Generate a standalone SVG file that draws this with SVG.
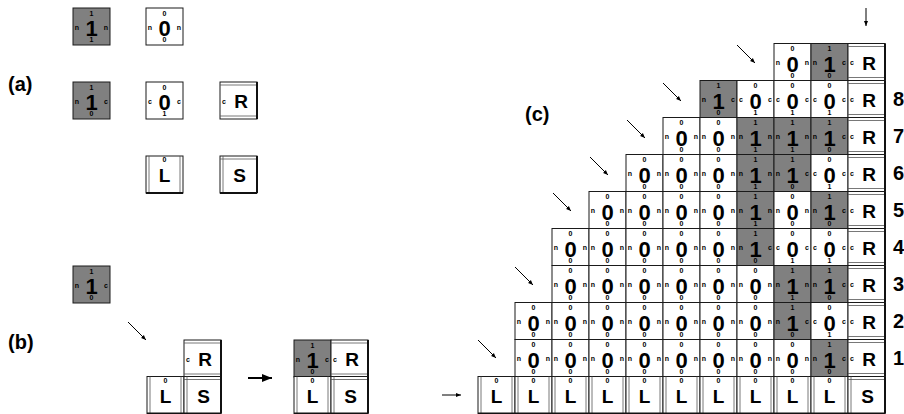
<svg xmlns="http://www.w3.org/2000/svg" xmlns:xlink="http://www.w3.org/1999/xlink" width="904" height="414" viewBox="0 0 904 414">
<style>
.fr{fill:#fff;stroke:#1a1a1a;stroke-width:1}
.gy{fill:#808080;stroke:#1a1a1a;stroke-width:1}
.in{stroke:#555;stroke-width:0.8;fill:none}
.tk{stroke:#111;stroke-width:2;fill:none}
text{font-family:"Liberation Sans",Arial,sans-serif;font-weight:bold;fill:#000;text-anchor:middle}
.b{font-size:22px}
.s{font-size:7px}
.k{font-size:19px}
.lb{font-size:20px;text-anchor:start}
.ar{stroke:#000;stroke-width:1;fill:none;marker-end:url(#ah)}
.ar2{stroke:#000;stroke-width:2;fill:none;marker-end:url(#ah)}
</style>
<defs>
<marker id="ah" viewBox="0 0 10 10" refX="10" refY="5" markerWidth="5.5" markerHeight="5" orient="auto"><path d="M0,1L10,5L0,9z" fill="#000"/></marker>
<g id="fW"><rect class="fr" width="37" height="37"/></g>
<g id="fG"><rect class="gy" width="37" height="37"/></g>
<g id="fR"><rect class="fr" width="37" height="37"/><path class="in" d="M0,3H37M0,34H37"/><path class="tk" d="M37,0V37"/></g>
<g id="fL"><rect class="fr" width="37" height="37"/><path class="in" d="M3,0V37M34,0V37"/><path class="tk" d="M0,37H37"/></g>
<g id="fS"><rect class="fr" width="37" height="37"/><path class="in" d="M3,0V37M0,3H37"/><path class="tk" d="M37,0V37M0,37H37"/></g>
</defs>

<text class="lb" x="8" y="91">(a)</text>
<text class="lb" x="8" y="349">(b)</text>
<text class="lb" x="525" y="121">(c)</text>

<!-- (a) -->
<g id="a1" transform="translate(73,8)"><use href="#fG"/><text class="b" x="18.5" y="28">1</text><text class="s"><tspan x="18.5" y="7.5">1</tspan><tspan x="18.5" y="34">1</tspan><tspan x="4" y="21.5">n</tspan><tspan x="33" y="21.5">n</tspan></text></g>
<g id="a2" transform="translate(146,8)"><use href="#fW"/><text class="b" x="18.5" y="28">0</text><text class="s"><tspan x="18.5" y="7.5">0</tspan><tspan x="18.5" y="34">0</tspan><tspan x="4" y="21.5">n</tspan><tspan x="33" y="21.5">n</tspan></text></g>
<g id="a3" transform="translate(73,82)"><use href="#fG"/><text class="b" x="18.5" y="28">1</text><text class="s"><tspan x="18.5" y="7.5">1</tspan><tspan x="18.5" y="34">0</tspan><tspan x="4" y="21.5">n</tspan><tspan x="33" y="21.5">c</tspan></text></g>
<g id="a4" transform="translate(146,82)"><use href="#fW"/><text class="b" x="18.5" y="28">0</text><text class="s"><tspan x="18.5" y="7.5">0</tspan><tspan x="18.5" y="34">1</tspan><tspan x="4" y="21.5">c</tspan><tspan x="33" y="21.5">c</tspan></text></g>
<g id="a5" transform="translate(220,82)"><use href="#fR"/><text class="s" x="4" y="21.5">c</text><text class="k" x="21" y="26">R</text></g>
<g id="a6" transform="translate(146,156)"><use href="#fL"/><text class="s" x="18.5" y="6">0</text><text class="k" x="18.5" y="26">L</text></g>
<g id="a7" transform="translate(220,156)"><use href="#fS"/><text class="k" x="19.5" y="26">S</text></g>

<!-- (b) -->
<g id="b1" transform="translate(73,266)"><use href="#fG"/><text class="b" x="18.5" y="28">1</text><text class="s"><tspan x="18.5" y="7.5">1</tspan><tspan x="18.5" y="34">0</tspan><tspan x="4" y="21.5">n</tspan><tspan x="33" y="21.5">c</tspan></text></g>
<g id="b2" transform="translate(184,340)"><use href="#fR"/><text class="s" x="4" y="21.5">c</text><text class="k" x="21" y="26">R</text></g>
<g id="b3" transform="translate(147,376.5)"><use href="#fL"/><text class="s" x="18.5" y="6">0</text><text class="k" x="18.5" y="26">L</text></g>
<g id="b4" transform="translate(184,376.5)"><use href="#fS"/><text class="k" x="19.5" y="26">S</text></g>
<g id="b5" transform="translate(294,340)"><use href="#fG"/><text class="b" x="18.5" y="28">1</text><text class="s"><tspan x="18.5" y="7.5">1</tspan><tspan x="18.5" y="34">0</tspan><tspan x="4" y="21.5">n</tspan><tspan x="33" y="21.5">c</tspan></text></g>
<g id="b6" transform="translate(331,340)"><use href="#fR"/><text class="s" x="4" y="21.5">c</text><text class="k" x="21" y="26">R</text></g>
<g id="b7" transform="translate(294,376.5)"><use href="#fL"/><text class="s" x="18.5" y="6">0</text><text class="k" x="18.5" y="26">L</text></g>
<g id="b8" transform="translate(331,376.5)"><use href="#fS"/><text class="k" x="19.5" y="26">S</text></g>

<!-- (c) row 9 -->
<g id="c9-8" transform="translate(774,43.5)"><use href="#fW"/><text class="b" x="18.5" y="28">0</text><text class="s"><tspan x="18.5" y="7.5">0</tspan><tspan x="18.5" y="34">0</tspan><tspan x="4" y="21.5">n</tspan><tspan x="33" y="21.5">n</tspan></text></g>
<g id="c9-9" transform="translate(811,43.5)"><use href="#fG"/><text class="b" x="18.5" y="28">1</text><text class="s"><tspan x="18.5" y="7.5">1</tspan><tspan x="18.5" y="34">0</tspan><tspan x="4" y="21.5">n</tspan><tspan x="33" y="21.5">c</tspan></text></g>
<g id="c9-R" transform="translate(848,43.5)"><use href="#fR"/><text class="s" x="4" y="21.5">c</text><text class="k" x="21" y="26">R</text></g>

<!-- row 8 -->
<g id="c8-6" transform="translate(700,80.5)"><use href="#fG"/><text class="b" x="18.5" y="28">1</text><text class="s"><tspan x="18.5" y="7.5">1</tspan><tspan x="18.5" y="34">0</tspan><tspan x="4" y="21.5">n</tspan><tspan x="33" y="21.5">c</tspan></text></g>
<g id="c8-7" transform="translate(737,80.5)"><use href="#fW"/><text class="b" x="18.5" y="28">0</text><text class="s"><tspan x="18.5" y="7.5">0</tspan><tspan x="18.5" y="34">1</tspan><tspan x="4" y="21.5">c</tspan><tspan x="33" y="21.5">c</tspan></text></g>
<g id="c8-8" transform="translate(774,80.5)"><use href="#fW"/><text class="b" x="18.5" y="28">0</text><text class="s"><tspan x="18.5" y="7.5">0</tspan><tspan x="18.5" y="34">1</tspan><tspan x="4" y="21.5">c</tspan><tspan x="33" y="21.5">c</tspan></text></g>
<g id="c8-9" transform="translate(811,80.5)"><use href="#fW"/><text class="b" x="18.5" y="28">0</text><text class="s"><tspan x="18.5" y="7.5">0</tspan><tspan x="18.5" y="34">1</tspan><tspan x="4" y="21.5">c</tspan><tspan x="33" y="21.5">c</tspan></text></g>
<g id="c8-R" transform="translate(848,80.5)"><use href="#fR"/><text class="s" x="4" y="21.5">c</text><text class="k" x="21" y="26">R</text></g>

<!-- row 7 -->
<g id="c7-5" transform="translate(663,117.5)"><use href="#fW"/><text class="b" x="18.5" y="28">0</text><text class="s"><tspan x="18.5" y="7.5">0</tspan><tspan x="18.5" y="34">0</tspan><tspan x="4" y="21.5">n</tspan><tspan x="33" y="21.5">n</tspan></text></g>
<g id="c7-6" transform="translate(700,117.5)"><use href="#fW"/><text class="b" x="18.5" y="28">0</text><text class="s"><tspan x="18.5" y="7.5">0</tspan><tspan x="18.5" y="34">0</tspan><tspan x="4" y="21.5">n</tspan><tspan x="33" y="21.5">n</tspan></text></g>
<g id="c7-7" transform="translate(737,117.5)"><use href="#fG"/><text class="b" x="18.5" y="28">1</text><text class="s"><tspan x="18.5" y="7.5">1</tspan><tspan x="18.5" y="34">1</tspan><tspan x="4" y="21.5">n</tspan><tspan x="33" y="21.5">n</tspan></text></g>
<g id="c7-8" transform="translate(774,117.5)"><use href="#fG"/><text class="b" x="18.5" y="28">1</text><text class="s"><tspan x="18.5" y="7.5">1</tspan><tspan x="18.5" y="34">1</tspan><tspan x="4" y="21.5">n</tspan><tspan x="33" y="21.5">n</tspan></text></g>
<g id="c7-9" transform="translate(811,117.5)"><use href="#fG"/><text class="b" x="18.5" y="28">1</text><text class="s"><tspan x="18.5" y="7.5">1</tspan><tspan x="18.5" y="34">0</tspan><tspan x="4" y="21.5">n</tspan><tspan x="33" y="21.5">c</tspan></text></g>
<g id="c7-R" transform="translate(848,117.5)"><use href="#fR"/><text class="s" x="4" y="21.5">c</text><text class="k" x="21" y="26">R</text></g>

<!-- row 6 -->
<g id="c6-4" transform="translate(626,154.5)"><use href="#fW"/><text class="b" x="18.5" y="28">0</text><text class="s"><tspan x="18.5" y="7.5">0</tspan><tspan x="18.5" y="34">0</tspan><tspan x="4" y="21.5">n</tspan><tspan x="33" y="21.5">n</tspan></text></g>
<g id="c6-5" transform="translate(663,154.5)"><use href="#fW"/><text class="b" x="18.5" y="28">0</text><text class="s"><tspan x="18.5" y="7.5">0</tspan><tspan x="18.5" y="34">0</tspan><tspan x="4" y="21.5">n</tspan><tspan x="33" y="21.5">n</tspan></text></g>
<g id="c6-6" transform="translate(700,154.5)"><use href="#fW"/><text class="b" x="18.5" y="28">0</text><text class="s"><tspan x="18.5" y="7.5">0</tspan><tspan x="18.5" y="34">0</tspan><tspan x="4" y="21.5">n</tspan><tspan x="33" y="21.5">n</tspan></text></g>
<g id="c6-7" transform="translate(737,154.5)"><use href="#fG"/><text class="b" x="18.5" y="28">1</text><text class="s"><tspan x="18.5" y="7.5">1</tspan><tspan x="18.5" y="34">1</tspan><tspan x="4" y="21.5">n</tspan><tspan x="33" y="21.5">n</tspan></text></g>
<g id="c6-8" transform="translate(774,154.5)"><use href="#fG"/><text class="b" x="18.5" y="28">1</text><text class="s"><tspan x="18.5" y="7.5">1</tspan><tspan x="18.5" y="34">0</tspan><tspan x="4" y="21.5">n</tspan><tspan x="33" y="21.5">c</tspan></text></g>
<g id="c6-9" transform="translate(811,154.5)"><use href="#fW"/><text class="b" x="18.5" y="28">0</text><text class="s"><tspan x="18.5" y="7.5">0</tspan><tspan x="18.5" y="34">1</tspan><tspan x="4" y="21.5">c</tspan><tspan x="33" y="21.5">c</tspan></text></g>
<g id="c6-R" transform="translate(848,154.5)"><use href="#fR"/><text class="s" x="4" y="21.5">c</text><text class="k" x="21" y="26">R</text></g>

<!-- row 5 -->
<g id="c5-3" transform="translate(589,191.5)"><use href="#fW"/><text class="b" x="18.5" y="28">0</text><text class="s"><tspan x="18.5" y="7.5">0</tspan><tspan x="18.5" y="34">0</tspan><tspan x="4" y="21.5">n</tspan><tspan x="33" y="21.5">n</tspan></text></g>
<g id="c5-4" transform="translate(626,191.5)"><use href="#fW"/><text class="b" x="18.5" y="28">0</text><text class="s"><tspan x="18.5" y="7.5">0</tspan><tspan x="18.5" y="34">0</tspan><tspan x="4" y="21.5">n</tspan><tspan x="33" y="21.5">n</tspan></text></g>
<g id="c5-5" transform="translate(663,191.5)"><use href="#fW"/><text class="b" x="18.5" y="28">0</text><text class="s"><tspan x="18.5" y="7.5">0</tspan><tspan x="18.5" y="34">0</tspan><tspan x="4" y="21.5">n</tspan><tspan x="33" y="21.5">n</tspan></text></g>
<g id="c5-6" transform="translate(700,191.5)"><use href="#fW"/><text class="b" x="18.5" y="28">0</text><text class="s"><tspan x="18.5" y="7.5">0</tspan><tspan x="18.5" y="34">0</tspan><tspan x="4" y="21.5">n</tspan><tspan x="33" y="21.5">n</tspan></text></g>
<g id="c5-7" transform="translate(737,191.5)"><use href="#fG"/><text class="b" x="18.5" y="28">1</text><text class="s"><tspan x="18.5" y="7.5">1</tspan><tspan x="18.5" y="34">1</tspan><tspan x="4" y="21.5">n</tspan><tspan x="33" y="21.5">n</tspan></text></g>
<g id="c5-8" transform="translate(774,191.5)"><use href="#fW"/><text class="b" x="18.5" y="28">0</text><text class="s"><tspan x="18.5" y="7.5">0</tspan><tspan x="18.5" y="34">0</tspan><tspan x="4" y="21.5">n</tspan><tspan x="33" y="21.5">n</tspan></text></g>
<g id="c5-9" transform="translate(811,191.5)"><use href="#fG"/><text class="b" x="18.5" y="28">1</text><text class="s"><tspan x="18.5" y="7.5">1</tspan><tspan x="18.5" y="34">0</tspan><tspan x="4" y="21.5">n</tspan><tspan x="33" y="21.5">c</tspan></text></g>
<g id="c5-R" transform="translate(848,191.5)"><use href="#fR"/><text class="s" x="4" y="21.5">c</text><text class="k" x="21" y="26">R</text></g>

<!-- row 4 -->
<g id="c4-2" transform="translate(552,228.5)"><use href="#fW"/><text class="b" x="18.5" y="28">0</text><text class="s"><tspan x="18.5" y="7.5">0</tspan><tspan x="18.5" y="34">0</tspan><tspan x="4" y="21.5">n</tspan><tspan x="33" y="21.5">n</tspan></text></g>
<g id="c4-3" transform="translate(589,228.5)"><use href="#fW"/><text class="b" x="18.5" y="28">0</text><text class="s"><tspan x="18.5" y="7.5">0</tspan><tspan x="18.5" y="34">0</tspan><tspan x="4" y="21.5">n</tspan><tspan x="33" y="21.5">n</tspan></text></g>
<g id="c4-4" transform="translate(626,228.5)"><use href="#fW"/><text class="b" x="18.5" y="28">0</text><text class="s"><tspan x="18.5" y="7.5">0</tspan><tspan x="18.5" y="34">0</tspan><tspan x="4" y="21.5">n</tspan><tspan x="33" y="21.5">n</tspan></text></g>
<g id="c4-5" transform="translate(663,228.5)"><use href="#fW"/><text class="b" x="18.5" y="28">0</text><text class="s"><tspan x="18.5" y="7.5">0</tspan><tspan x="18.5" y="34">0</tspan><tspan x="4" y="21.5">n</tspan><tspan x="33" y="21.5">n</tspan></text></g>
<g id="c4-6" transform="translate(700,228.5)"><use href="#fW"/><text class="b" x="18.5" y="28">0</text><text class="s"><tspan x="18.5" y="7.5">0</tspan><tspan x="18.5" y="34">0</tspan><tspan x="4" y="21.5">n</tspan><tspan x="33" y="21.5">n</tspan></text></g>
<g id="c4-7" transform="translate(737,228.5)"><use href="#fG"/><text class="b" x="18.5" y="28">1</text><text class="s"><tspan x="18.5" y="7.5">1</tspan><tspan x="18.5" y="34">0</tspan><tspan x="4" y="21.5">n</tspan><tspan x="33" y="21.5">c</tspan></text></g>
<g id="c4-8" transform="translate(774,228.5)"><use href="#fW"/><text class="b" x="18.5" y="28">0</text><text class="s"><tspan x="18.5" y="7.5">0</tspan><tspan x="18.5" y="34">1</tspan><tspan x="4" y="21.5">c</tspan><tspan x="33" y="21.5">c</tspan></text></g>
<g id="c4-9" transform="translate(811,228.5)"><use href="#fW"/><text class="b" x="18.5" y="28">0</text><text class="s"><tspan x="18.5" y="7.5">0</tspan><tspan x="18.5" y="34">1</tspan><tspan x="4" y="21.5">c</tspan><tspan x="33" y="21.5">c</tspan></text></g>
<g id="c4-R" transform="translate(848,228.5)"><use href="#fR"/><text class="s" x="4" y="21.5">c</text><text class="k" x="21" y="26">R</text></g>

<!-- row 3 -->
<g id="c3-2" transform="translate(552,265.5)"><use href="#fW"/><text class="b" x="18.5" y="28">0</text><text class="s"><tspan x="18.5" y="7.5">0</tspan><tspan x="18.5" y="34">0</tspan><tspan x="4" y="21.5">n</tspan><tspan x="33" y="21.5">n</tspan></text></g>
<g id="c3-3" transform="translate(589,265.5)"><use href="#fW"/><text class="b" x="18.5" y="28">0</text><text class="s"><tspan x="18.5" y="7.5">0</tspan><tspan x="18.5" y="34">0</tspan><tspan x="4" y="21.5">n</tspan><tspan x="33" y="21.5">n</tspan></text></g>
<g id="c3-4" transform="translate(626,265.5)"><use href="#fW"/><text class="b" x="18.5" y="28">0</text><text class="s"><tspan x="18.5" y="7.5">0</tspan><tspan x="18.5" y="34">0</tspan><tspan x="4" y="21.5">n</tspan><tspan x="33" y="21.5">n</tspan></text></g>
<g id="c3-5" transform="translate(663,265.5)"><use href="#fW"/><text class="b" x="18.5" y="28">0</text><text class="s"><tspan x="18.5" y="7.5">0</tspan><tspan x="18.5" y="34">0</tspan><tspan x="4" y="21.5">n</tspan><tspan x="33" y="21.5">n</tspan></text></g>
<g id="c3-6" transform="translate(700,265.5)"><use href="#fW"/><text class="b" x="18.5" y="28">0</text><text class="s"><tspan x="18.5" y="7.5">0</tspan><tspan x="18.5" y="34">0</tspan><tspan x="4" y="21.5">n</tspan><tspan x="33" y="21.5">n</tspan></text></g>
<g id="c3-7" transform="translate(737,265.5)"><use href="#fW"/><text class="b" x="18.5" y="28">0</text><text class="s"><tspan x="18.5" y="7.5">0</tspan><tspan x="18.5" y="34">0</tspan><tspan x="4" y="21.5">n</tspan><tspan x="33" y="21.5">n</tspan></text></g>
<g id="c3-8" transform="translate(774,265.5)"><use href="#fG"/><text class="b" x="18.5" y="28">1</text><text class="s"><tspan x="18.5" y="7.5">1</tspan><tspan x="18.5" y="34">1</tspan><tspan x="4" y="21.5">n</tspan><tspan x="33" y="21.5">n</tspan></text></g>
<g id="c3-9" transform="translate(811,265.5)"><use href="#fG"/><text class="b" x="18.5" y="28">1</text><text class="s"><tspan x="18.5" y="7.5">1</tspan><tspan x="18.5" y="34">0</tspan><tspan x="4" y="21.5">n</tspan><tspan x="33" y="21.5">c</tspan></text></g>
<g id="c3-R" transform="translate(848,265.5)"><use href="#fR"/><text class="s" x="4" y="21.5">c</text><text class="k" x="21" y="26">R</text></g>

<!-- row 2 -->
<g id="c2-1" transform="translate(515,302.5)"><use href="#fW"/><text class="b" x="18.5" y="28">0</text><text class="s"><tspan x="18.5" y="7.5">0</tspan><tspan x="18.5" y="34">0</tspan><tspan x="4" y="21.5">n</tspan><tspan x="33" y="21.5">n</tspan></text></g>
<g id="c2-2" transform="translate(552,302.5)"><use href="#fW"/><text class="b" x="18.5" y="28">0</text><text class="s"><tspan x="18.5" y="7.5">0</tspan><tspan x="18.5" y="34">0</tspan><tspan x="4" y="21.5">n</tspan><tspan x="33" y="21.5">n</tspan></text></g>
<g id="c2-3" transform="translate(589,302.5)"><use href="#fW"/><text class="b" x="18.5" y="28">0</text><text class="s"><tspan x="18.5" y="7.5">0</tspan><tspan x="18.5" y="34">0</tspan><tspan x="4" y="21.5">n</tspan><tspan x="33" y="21.5">n</tspan></text></g>
<g id="c2-4" transform="translate(626,302.5)"><use href="#fW"/><text class="b" x="18.5" y="28">0</text><text class="s"><tspan x="18.5" y="7.5">0</tspan><tspan x="18.5" y="34">0</tspan><tspan x="4" y="21.5">n</tspan><tspan x="33" y="21.5">n</tspan></text></g>
<g id="c2-5" transform="translate(663,302.5)"><use href="#fW"/><text class="b" x="18.5" y="28">0</text><text class="s"><tspan x="18.5" y="7.5">0</tspan><tspan x="18.5" y="34">0</tspan><tspan x="4" y="21.5">n</tspan><tspan x="33" y="21.5">n</tspan></text></g>
<g id="c2-6" transform="translate(700,302.5)"><use href="#fW"/><text class="b" x="18.5" y="28">0</text><text class="s"><tspan x="18.5" y="7.5">0</tspan><tspan x="18.5" y="34">0</tspan><tspan x="4" y="21.5">n</tspan><tspan x="33" y="21.5">n</tspan></text></g>
<g id="c2-7" transform="translate(737,302.5)"><use href="#fW"/><text class="b" x="18.5" y="28">0</text><text class="s"><tspan x="18.5" y="7.5">0</tspan><tspan x="18.5" y="34">0</tspan><tspan x="4" y="21.5">n</tspan><tspan x="33" y="21.5">n</tspan></text></g>
<g id="c2-8" transform="translate(774,302.5)"><use href="#fG"/><text class="b" x="18.5" y="28">1</text><text class="s"><tspan x="18.5" y="7.5">1</tspan><tspan x="18.5" y="34">0</tspan><tspan x="4" y="21.5">n</tspan><tspan x="33" y="21.5">c</tspan></text></g>
<g id="c2-9" transform="translate(811,302.5)"><use href="#fW"/><text class="b" x="18.5" y="28">0</text><text class="s"><tspan x="18.5" y="7.5">0</tspan><tspan x="18.5" y="34">1</tspan><tspan x="4" y="21.5">c</tspan><tspan x="33" y="21.5">c</tspan></text></g>
<g id="c2-R" transform="translate(848,302.5)"><use href="#fR"/><text class="s" x="4" y="21.5">c</text><text class="k" x="21" y="26">R</text></g>

<!-- row 1 -->
<g id="c1-1" transform="translate(515,339.5)"><use href="#fW"/><text class="b" x="18.5" y="28">0</text><text class="s"><tspan x="18.5" y="7.5">0</tspan><tspan x="18.5" y="34">0</tspan><tspan x="4" y="21.5">n</tspan><tspan x="33" y="21.5">n</tspan></text></g>
<g id="c1-2" transform="translate(552,339.5)"><use href="#fW"/><text class="b" x="18.5" y="28">0</text><text class="s"><tspan x="18.5" y="7.5">0</tspan><tspan x="18.5" y="34">0</tspan><tspan x="4" y="21.5">n</tspan><tspan x="33" y="21.5">n</tspan></text></g>
<g id="c1-3" transform="translate(589,339.5)"><use href="#fW"/><text class="b" x="18.5" y="28">0</text><text class="s"><tspan x="18.5" y="7.5">0</tspan><tspan x="18.5" y="34">0</tspan><tspan x="4" y="21.5">n</tspan><tspan x="33" y="21.5">n</tspan></text></g>
<g id="c1-4" transform="translate(626,339.5)"><use href="#fW"/><text class="b" x="18.5" y="28">0</text><text class="s"><tspan x="18.5" y="7.5">0</tspan><tspan x="18.5" y="34">0</tspan><tspan x="4" y="21.5">n</tspan><tspan x="33" y="21.5">n</tspan></text></g>
<g id="c1-5" transform="translate(663,339.5)"><use href="#fW"/><text class="b" x="18.5" y="28">0</text><text class="s"><tspan x="18.5" y="7.5">0</tspan><tspan x="18.5" y="34">0</tspan><tspan x="4" y="21.5">n</tspan><tspan x="33" y="21.5">n</tspan></text></g>
<g id="c1-6" transform="translate(700,339.5)"><use href="#fW"/><text class="b" x="18.5" y="28">0</text><text class="s"><tspan x="18.5" y="7.5">0</tspan><tspan x="18.5" y="34">0</tspan><tspan x="4" y="21.5">n</tspan><tspan x="33" y="21.5">n</tspan></text></g>
<g id="c1-7" transform="translate(737,339.5)"><use href="#fW"/><text class="b" x="18.5" y="28">0</text><text class="s"><tspan x="18.5" y="7.5">0</tspan><tspan x="18.5" y="34">0</tspan><tspan x="4" y="21.5">n</tspan><tspan x="33" y="21.5">n</tspan></text></g>
<g id="c1-8" transform="translate(774,339.5)"><use href="#fW"/><text class="b" x="18.5" y="28">0</text><text class="s"><tspan x="18.5" y="7.5">0</tspan><tspan x="18.5" y="34">0</tspan><tspan x="4" y="21.5">n</tspan><tspan x="33" y="21.5">n</tspan></text></g>
<g id="c1-9" transform="translate(811,339.5)"><use href="#fG"/><text class="b" x="18.5" y="28">1</text><text class="s"><tspan x="18.5" y="7.5">1</tspan><tspan x="18.5" y="34">0</tspan><tspan x="4" y="21.5">n</tspan><tspan x="33" y="21.5">c</tspan></text></g>
<g id="c1-R" transform="translate(848,339.5)"><use href="#fR"/><text class="s" x="4" y="21.5">c</text><text class="k" x="21" y="26">R</text></g>

<!-- row 0 -->
<g id="c0-0" transform="translate(478,376.5)"><use href="#fL"/><text class="s" x="18.5" y="6">0</text><text class="k" x="18.5" y="26">L</text></g>
<g id="c0-1" transform="translate(515,376.5)"><use href="#fL"/><text class="s" x="18.5" y="6">0</text><text class="k" x="18.5" y="26">L</text></g>
<g id="c0-2" transform="translate(552,376.5)"><use href="#fL"/><text class="s" x="18.5" y="6">0</text><text class="k" x="18.5" y="26">L</text></g>
<g id="c0-3" transform="translate(589,376.5)"><use href="#fL"/><text class="s" x="18.5" y="6">0</text><text class="k" x="18.5" y="26">L</text></g>
<g id="c0-4" transform="translate(626,376.5)"><use href="#fL"/><text class="s" x="18.5" y="6">0</text><text class="k" x="18.5" y="26">L</text></g>
<g id="c0-5" transform="translate(663,376.5)"><use href="#fL"/><text class="s" x="18.5" y="6">0</text><text class="k" x="18.5" y="26">L</text></g>
<g id="c0-6" transform="translate(700,376.5)"><use href="#fL"/><text class="s" x="18.5" y="6">0</text><text class="k" x="18.5" y="26">L</text></g>
<g id="c0-7" transform="translate(737,376.5)"><use href="#fL"/><text class="s" x="18.5" y="6">0</text><text class="k" x="18.5" y="26">L</text></g>
<g id="c0-8" transform="translate(774,376.5)"><use href="#fL"/><text class="s" x="18.5" y="6">0</text><text class="k" x="18.5" y="26">L</text></g>
<g id="c0-9" transform="translate(811,376.5)"><use href="#fL"/><text class="s" x="18.5" y="6">0</text><text class="k" x="18.5" y="26">L</text></g>
<g id="c0-S" transform="translate(848,376.5)"><use href="#fS"/><text class="k" x="19.5" y="26">S</text></g>

<!-- row labels -->
<g id="rowlabels">
<text class="lb" x="893" y="106">8</text>
<text class="lb" x="893" y="143">7</text>
<text class="lb" x="893" y="180">6</text>
<text class="lb" x="893" y="217">5</text>
<text class="lb" x="893" y="254">4</text>
<text class="lb" x="893" y="291">3</text>
<text class="lb" x="893" y="328">2</text>
<text class="lb" x="893" y="365">1</text>
</g>

<!-- connectors -->
<g id="connectors">
<line class="ar" x1="128" y1="322" x2="146" y2="340"/>
<line class="ar2" x1="248" y1="378" x2="272" y2="378"/>
<line class="ar" x1="866" y1="8" x2="866" y2="26"/>
<line class="ar" x1="737" y1="45" x2="755" y2="63"/>
<line class="ar" x1="663" y1="83" x2="681" y2="101"/>
<line class="ar" x1="627" y1="120" x2="645" y2="138"/>
<line class="ar" x1="590" y1="157" x2="608" y2="175"/>
<line class="ar" x1="553" y1="193" x2="571" y2="211"/>
<line class="ar" x1="515" y1="267" x2="533" y2="285"/>
<line class="ar" x1="478" y1="340" x2="496" y2="358"/>
<line class="ar" x1="442" y1="395" x2="461" y2="395"/>
</g>
</svg>
